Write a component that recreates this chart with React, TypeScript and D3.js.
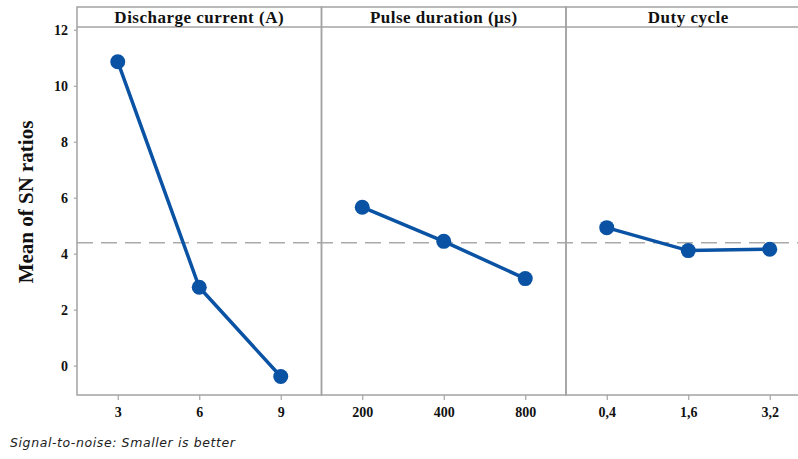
import React, { useRef, useEffect } from 'react';
import * as d3 from 'd3';

// factor names and levels
const factors = ['Discharge current (A)', 'Pulse duration (\u00b5s)', 'Duty cycle'];
const currentLevels = ['3', '6', '9'];
const pulseLevels = ['200', '400', '800'];
const dutyLevels = ['0,4', '1,6', '3,2'];

// mean of SN ratios per level
const currentMeans = [10.86, 2.8, -0.39];
const pulseMeans = [5.66, 4.44, 3.11];
const dutyMeans = [4.93, 4.11, 4.16];

const overallMean = 4.39;
const yTicks = [0, 2, 4, 6, 8, 10, 12];

const MainEffects = () => {
    const ref = useRef(null);

    useEffect(() => {
        const width = 798;
        const left = 77;
        const top = 7;
        const headerH = 20;
        const bottom = 395;
        const panelW = 244.5;
        const blue = '#0a52a3';
        const grey = '#a3a3a3';

        d3.select(ref.current).selectAll('*').remove();
        const svg = d3.select(ref.current);

        const y = d3.scaleLinear().domain([-1.05, 12.1]).range([bottom, top + headerH]);

        const levels = [currentLevels, pulseLevels, dutyLevels];
        const means = [currentMeans, pulseMeans, dutyMeans];

        // y axis
        svg.append('g')
            .attr('transform', 'translate(' + left + ',0)')
            .call(d3.axisLeft(y).tickValues(yTicks).tickSize(3).tickPadding(6))
            .call(g => g.select('.domain').remove())
            .call(g => g.selectAll('line').attr('stroke', grey).attr('stroke-width', 1.2))
            .call(g => g.selectAll('text')
                .attr('fill', '#111')
                .style('font-family', '"Liberation Serif", serif')
                .style('font-weight', 'bold')
                .style('font-size', '14px'));

        // dashed overall mean
        svg.append('line')
            .attr('x1', left).attr('x2', width)
            .attr('y1', y(overallMean)).attr('y2', y(overallMean))
            .attr('stroke', '#aaaaaa')
            .attr('stroke-width', 1.5)
            .attr('stroke-dasharray', '16,8');

        factors.forEach((name, i) => {
            const x0 = left + i * panelW;
            const x = d3.scalePoint().domain(levels[i]).range([x0, x0 + panelW]).padding(0.5);

            // panel frame
            svg.append('rect')
                .attr('x', x0).attr('y', top)
                .attr('width', panelW).attr('height', bottom - top)
                .attr('fill', 'none')
                .attr('stroke', grey)
                .attr('stroke-width', 1.5);
            svg.append('line')
                .attr('x1', x0).attr('x2', x0 + panelW)
                .attr('y1', top + headerH).attr('y2', top + headerH)
                .attr('stroke', grey)
                .attr('stroke-width', 1.5);

            svg.append('text')
                .attr('x', x0 + panelW / 2)
                .attr('y', top + 16)
                .attr('text-anchor', 'middle')
                .attr('fill', '#111')
                .style('font-family', '"Liberation Serif", serif')
                .style('font-weight', 'bold')
                .style('font-size', '17px')
                .style('letter-spacing', '0.5px')
                .text(name);

            // x axis
            svg.append('g')
                .attr('transform', 'translate(0,' + bottom + ')')
                .call(d3.axisBottom(x).tickSize(5).tickPadding(7))
                .call(g => g.select('.domain').remove())
                .call(g => g.selectAll('line').attr('stroke', grey).attr('stroke-width', 1.2))
                .call(g => g.selectAll('text')
                    .attr('fill', '#111')
                    .style('font-family', '"Liberation Serif", serif')
                    .style('font-weight', 'bold')
                    .style('font-size', '14px'));

            const pts = levels[i].map((l, j) => [x(l), y(means[i][j])]);
            svg.append('path')
                .attr('d', d3.line()(pts))
                .attr('fill', 'none')
                .attr('stroke', blue)
                .attr('stroke-width', 3.5);
            svg.selectAll('.pt' + i)
                .data(pts)
                .enter()
                .append('circle')
                .attr('cx', d => d[0])
                .attr('cy', d => d[1])
                .attr('r', 7.5)
                .attr('fill', blue);
        });

        // y label
        svg.append('text')
            .attr('transform', 'translate(33,' + 202 + ') rotate(-90)')
            .attr('text-anchor', 'middle')
            .attr('fill', '#111')
            .style('font-family', '"Liberation Serif", serif')
            .style('font-weight', 'bold')
            .style('font-size', '21px')
            .text('Mean of SN ratios');

        svg.append('text')
            .attr('x', 10)
            .attr('y', 447)
            .attr('fill', '#222')
            .style('font-family', '"DejaVu Sans", sans-serif')
            .style('font-style', 'italic')
            .style('font-size', '12.5px')
            .style('letter-spacing', '0.6px')
            .text('Signal-to-noise: Smaller is better');
    }, []);

    return (
        <svg
            ref={ref}
            width={798}
            height={459}
            style={{ position: 'absolute', left: 0, top: 0, background: '#fff' }}
        />
    );
};

export default function App() {
    return <MainEffects />;
}
